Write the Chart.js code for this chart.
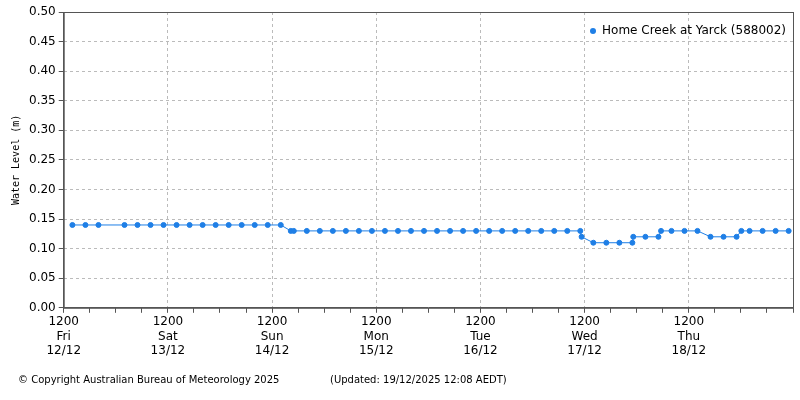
<!DOCTYPE html>
<html>
<head>
<meta charset="utf-8">
<script src="https://cdn.jsdelivr.net/npm/chart.js@4"></script>
<style>
  body { margin: 0; background: #fff; font-family: "DejaVu Sans", sans-serif; }
  #wrap { position: relative; width: 800px; height: 400px; }
  .foot { position: absolute; top: 374px; font-size: 10px; color: #000; }
  #legend { position: absolute; top: 23px; right: 14px; font-size: 12px; color: #000; }
  #legend span { display: inline-block; width: 6px; height: 6px; border-radius: 3px; background: #1f7fe6; margin-right: 6px; vertical-align: middle; }
</style>
</head>
<body>
<div id="wrap">
  <canvas id="levelChart" width="800" height="400"></canvas>
  <div id="legend"><span></span>Home Creek at Yarck (588002)</div>
  <div class="foot" style="left:18px">© Copyright Australian Bureau of Meteorology 2025</div>
  <div class="foot" style="left:330px">(Updated: 19/12/2025 12:08 AEDT)</div>
</div>
<script>
// hours since Fri 12/12 12:00
const hours = [2, 5, 8, 14, 17, 20, 23, 26, 29, 32, 35, 38, 41, 44, 47, 50, 52.3, 53, 56, 59, 62, 65, 68, 71, 74, 77, 80, 83, 86, 89, 92, 95, 98, 101, 104, 107, 110, 113, 116, 119, 119.3, 122, 125, 128, 131, 131.2, 134, 137, 137.6, 140, 143, 146, 149, 152, 155, 156.1, 158, 161, 164, 167];
const levels = [0.14, 0.14, 0.14, 0.14, 0.14, 0.14, 0.14, 0.14, 0.14, 0.14, 0.14, 0.14, 0.14, 0.14, 0.14, 0.14, 0.13, 0.13, 0.13, 0.13, 0.13, 0.13, 0.13, 0.13, 0.13, 0.13, 0.13, 0.13, 0.13, 0.13, 0.13, 0.13, 0.13, 0.13, 0.13, 0.13, 0.13, 0.13, 0.13, 0.13, 0.12, 0.11, 0.11, 0.11, 0.11, 0.12, 0.12, 0.12, 0.13, 0.13, 0.13, 0.13, 0.12, 0.12, 0.12, 0.13, 0.13, 0.13, 0.13, 0.13];
const dayNames = ["Fri", "Sat", "Sun", "Mon", "Tue", "Wed", "Thu"];
const dayDates = ["12/12", "13/12", "14/12", "15/12", "16/12", "17/12", "18/12"];

const ctx = document.getElementById('levelChart').getContext('2d');

const levelChart = new Chart(ctx, {
  type: 'line',
  data: {
    datasets: [{
      label: 'Home Creek at Yarck (588002)',
      data: hours.map((h, i) => ({ x: h, y: levels[i] })),
      borderColor: '#1f7fe6',
      backgroundColor: '#1f7fe6',
      borderWidth: 1,
      pointRadius: 2.5,
      pointHoverRadius: 2.5,
      tension: 0
    }]
  },
  options: {
    responsive: false,
    animation: false,
    layout: { padding: { left: 6, right: 7, top: 12, bottom: 40 } },
    plugins: { legend: { display: false }, tooltip: { enabled: false } },
    scales: {
      x: {
        type: 'linear',
        min: 0,
        max: 168,
        afterBuildTicks: axis => {
          axis.ticks = [];
          for (let h = 0; h <= 168; h += 6) axis.ticks.push({ value: h });
        },
        ticks: {
          autoSkip: false,
          maxRotation: 0,
          color: '#000',
          font: { family: 'DejaVu Sans', size: 12 },
          padding: 2,
          callback: v => (v % 24 === 0 && v < 168) ? ['1200', dayNames[v / 24], dayDates[v / 24]] : ''
        },
        grid: {
          color: c => (c.tick && c.tick.value % 24 === 0 && c.tick.value > 0 && c.tick.value < 168) ? '#bbb' : 'rgba(0,0,0,0)',
          tickColor: '#555',
          tickLength: 5,
          tickBorderDash: [],
          borderDash: [3, 3]
        },
        border: { color: '#555', dash: [3, 3] }
      },
      y: {
        min: 0,
        max: 0.5,
        ticks: {
          stepSize: 0.05,
          color: '#000',
          font: { family: 'DejaVu Sans', size: 12 },
          callback: v => v.toFixed(2)
        },
        title: {
          display: true,
          text: 'Water Level (m)',
          color: '#000',
          font: { family: 'DejaVu Sans Mono', size: 10 }
        },
        grid: {
          color: c => (c.tick && c.tick.value > 0 && c.tick.value < 0.5) ? '#bbb' : 'rgba(0,0,0,0)',
          tickColor: '#555',
          tickLength: 5
        },
        border: { color: '#555', dash: [3, 3] }
      }
    }
  },
  plugins: [{
    id: 'frame',
    afterDraw: chart => {
      const a = chart.chartArea, c = chart.ctx;
      c.save();
      c.strokeStyle = '#555';
      c.lineWidth = 1;
      c.strokeRect(a.left + 0.5, a.top + 0.5, a.width, a.height);
      c.restore();
    }
  }]
});
</script>
</body>
</html>
